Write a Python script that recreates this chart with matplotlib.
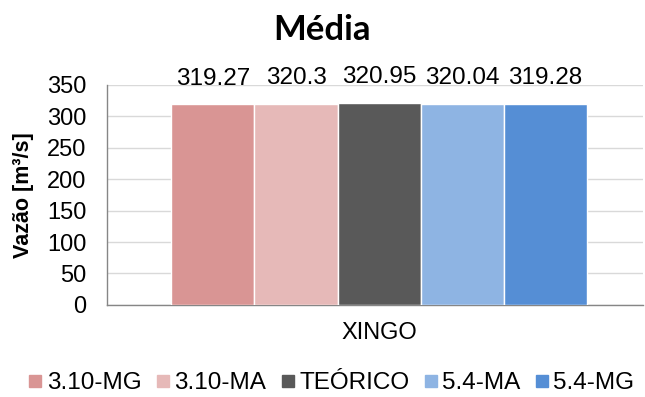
import matplotlib
matplotlib.use("Agg")
import matplotlib.pyplot as plt
from matplotlib.lines import Line2D

category = ["XINGO"]
series = ["3.10-MG", "3.10-MA", "TEÓRICO", "5.4-MA", "5.4-MG"]
values = [319.27, 320.3, 320.95, 320.04, 319.28]
labels = ["319.27", "320.3", "320.95", "320.04", "319.28"]
colors = ["#D99594", "#E6B9B8", "#595959", "#8EB4E3", "#558ED5"]

plt.rcParams["font.family"] = ["Liberation Sans", "DejaVu Sans"]

fig = plt.figure(figsize=(6.45, 3.97), dpi=100)
ax = fig.add_axes([0.166, 0.232, 0.831, 0.554])

w = 0.155
for i, (s, v, c, lab) in enumerate(zip(series, values, colors, labels)):
    x = (i - 2) * w
    ax.bar(x, v, width=w, color=c, edgecolor="white", linewidth=1, zorder=3)
    ax.text(x, v + 41, lab, ha="center", va="center", fontsize=17.5, color="black")

ax.set_xlim(-0.5 - 0.0075, 0.5 - 0.0075)
ax.set_ylim(0, 350)
ax.set_yticks(range(0, 351, 50))
ax.set_xticks([0])
ax.set_xticklabels(category, fontsize=17)
ax.tick_params(axis="x", length=0, pad=12)
ax.tick_params(axis="y", length=0, pad=15, labelsize=17)
ax.grid(axis="y", color="#D9D9D9", linewidth=1, zorder=0)
ax.set_axisbelow(True)
for sp in ["top", "right"]:
    ax.spines[sp].set_visible(False)
for sp in ["left", "bottom"]:
    ax.spines[sp].set_color("#868686")
    ax.spines[sp].set_linewidth(1)

ax.set_ylabel("Vazão [m³/s]", fontsize=15.5, fontweight="bold", labelpad=9)
fig.text(0.5, 0.925, "Média", ha="center", va="center", fontsize=25,
         fontweight="bold", family="Lato")

handles = [Line2D([], [], marker="s", linestyle="none", markersize=8,
                  markerfacecolor=c, markeredgecolor=c) for c in colors]
fig.legend(handles, series, loc="center", bbox_to_anchor=(0.514, 0.035), ncol=5,
           frameon=False, fontsize=17.5, handlelength=0.55, handletextpad=0.2,
           columnspacing=0.6)

fig.savefig("out.png", dpi=100)
